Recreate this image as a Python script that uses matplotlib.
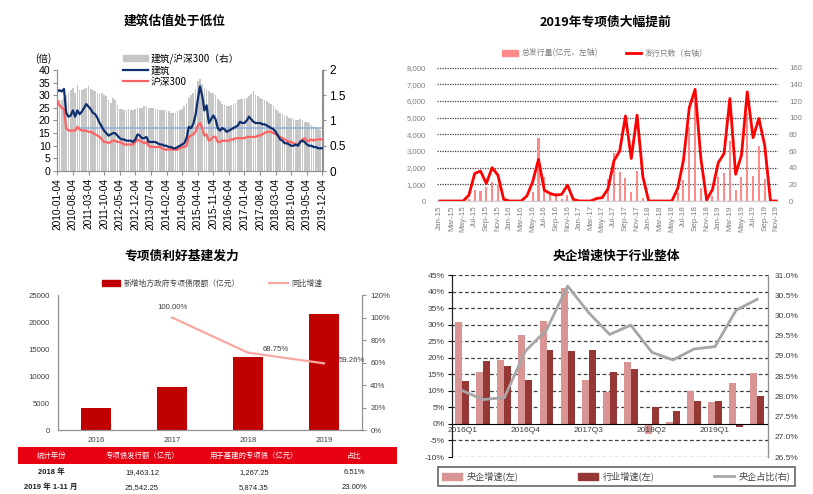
import numpy as np
import matplotlib
matplotlib.use('Agg')
import matplotlib.pyplot as plt
from matplotlib.patches import Patch, Rectangle
from matplotlib.lines import Line2D

plt.rcParams['font.family'] = ['Liberation Sans', 'Noto Sans CJK SC', 'DejaVu Sans']
plt.rcParams['axes.unicode_minus'] = False

# ---- 图1: 建筑估值 (月度, 2010-01 ~ 2019-12)
jianzhu = [31.5, 32, 31.5, 32.5, 23, 21.5, 22, 24, 21.5, 24, 22.5, 23.5,
           25, 26.5, 25.5, 24.5, 23, 22.5, 21, 19, 17.5, 16, 15, 14,
           14.5, 15, 15, 14, 13, 12.5, 12.5, 12, 12, 12, 11.5, 12.5,
           14.5, 14, 13, 13, 13.5, 11.5, 11.5, 11.5, 11.5, 11, 10.5, 10.5,
           10, 10, 9.5, 9.5, 9, 9, 9.5, 10, 10.5, 11, 13, 17.5,
           17, 18.5, 22, 28, 33.5, 30, 24, 26, 19, 20.5, 22, 20.5,
           17, 16, 17, 16.5, 15.5, 16, 16.5, 17, 17.5, 18, 19.5, 19,
           19, 20, 21.5, 20.5, 19.5, 19, 19, 19, 18.5, 18.5, 18, 17.5,
           17, 16.5, 15.5, 14, 12.5, 12, 11, 11, 10.5, 10, 10, 10.5,
           10, 11.5, 12, 11.5, 10.5, 10, 10, 9.5, 9.5, 9, 9, 9]
hs300 = [28, 26, 25, 24.5, 17, 16, 16, 16, 16, 17.5, 16.5, 16,
         16, 16, 15.5, 15.5, 15, 14.5, 14, 13.5, 12.5, 11.5, 11.5, 11,
         11.5, 12, 12, 11.5, 11.5, 11, 10.5, 10.5, 10.5, 10.5, 10.5, 11.5,
         12.5, 12, 11.5, 11, 11.5, 10, 9.5, 9.5, 9.5, 9.5, 9.5, 9,
         8.5, 8.5, 8.5, 8.5, 8.5, 8.5, 8.5, 9, 9.5, 9.5, 10, 13.5,
         14, 14.5, 15.5, 18, 19, 17, 14, 14.5, 12, 12.5, 13.5, 13.5,
         11.5, 11.5, 12, 12, 12, 12, 12.5, 12.5, 13, 13, 13, 13,
         13, 13.5, 13.5, 13.5, 13.5, 13.5, 14, 14, 14.5, 15, 15.5, 15.5,
         15.5, 15, 14.5, 14, 13.5, 13, 12.5, 12, 11.5, 11.5, 11, 10.5,
         10.5, 11.5, 12.5, 13, 12, 12, 12.5, 12, 12.5, 12.5, 12.5, 12.5]
ratio = [1.35, 1.4, 1.4, 1.45, 1.5, 1.55, 1.6, 1.65, 1.55, 1.7, 1.6, 1.6,
         1.62, 1.65, 1.68, 1.62, 1.6, 1.58, 1.55, 1.52, 1.55, 1.5, 1.48, 1.4,
         1.35, 1.45, 1.4, 1.3, 1.22, 1.22, 1.2, 1.2, 1.22, 1.2, 1.2, 1.22,
         1.25, 1.25, 1.25, 1.28, 1.28, 1.25, 1.25, 1.25, 1.22, 1.22, 1.2, 1.2,
         1.2, 1.18, 1.18, 1.15, 1.15, 1.15, 1.18, 1.2, 1.22, 1.28, 1.35, 1.45,
         1.5, 1.55, 1.62, 1.78, 1.82, 1.72, 1.65, 1.62, 1.58, 1.55, 1.55, 1.5,
         1.42, 1.38, 1.32, 1.3, 1.28, 1.28, 1.3, 1.32, 1.35, 1.4, 1.42, 1.42,
         1.42, 1.45, 1.48, 1.52, 1.58, 1.5, 1.48, 1.45, 1.42, 1.4, 1.38, 1.35,
         1.32, 1.28, 1.22, 1.18, 1.15, 1.12, 1.1, 1.08, 1.05, 1.05, 1.02, 1.0,
         1.0, 1.02, 1.0, 0.98, 0.98, 0.95, 0.92, 0.9, 0.88, 0.85, 0.82, 0.78]
ratio_mean = 0.86
date_labels = ['2010-01-04', '2010-08-04', '2011-03-04', '2011-10-04', '2012-05-04',
               '2012-12-04', '2013-07-04', '2014-02-04', '2014-09-04', '2015-04-04',
               '2015-11-04', '2016-06-04', '2017-01-04', '2017-08-04', '2018-03-04',
               '2018-10-04', '2019-05-04', '2019-12-04']

# ---- 图2: 专项债发行 (月度, 2015-01 ~ 2019-11)
issue = [0, 0, 0, 0, 0, 150, 660, 620, 860, 1160, 1000, 0,
         0, 0, 0, 0, 520, 3760, 1440, 360, 480, 150, 360, 0,
         0, 0, 0, 0, 0, 1300, 2900, 1760, 1360, 560, 1820, 180,
         0, 0, 0, 0, 0, 460, 1260, 4460, 6000, 780, 0, 300,
         1420, 1680, 3600, 660, 1460, 5260, 1500, 3320, 1320, 0, 0]
count = [0, 0, 0, 0, 0, 7, 33, 36, 21, 40, 31, 2,
         0, 0, 0, 6, 23, 50, 13, 9, 7, 8, 19, 2,
         0, 0, 0, 3, 4, 15, 48, 60, 102, 51, 103, 29,
         0, 0, 0, 0, 0, 15, 49, 112, 134, 51, 1, 14,
         46, 57, 123, 32, 55, 131, 76, 99, 67, 0, 0]
mon = ['Jan', 'Feb', 'Mar', 'Apr', 'May', 'Jun', 'Jul', 'Aug', 'Sep', 'Oct', 'Nov', 'Dec']
month_labels = [f'{mon[i % 12]}-{15 + i // 12}' for i in range(len(issue))]

# ---- 图3: 专项债限额
years = ['2016', '2017', '2018', '2019']
quota = [4000, 8000, 13500, 21500]
growth = [None, 1.0, 0.6875, 0.5926]
growth_txt = ['', '100.00%', '68.75%', '59.26%']
tbl_head = ['统计年份', '专项债发行额（亿元）', '用于基建的专项债（亿元）', '占比']
tbl_rows = [['2018 年', '19,463.12', '1,267.25', '6.51%'],
            ['2019 年 1-11 月', '25,542.25', '5,874.35', '23.00%']]

# ---- 图4: 央企 vs 行业
quarters = ['2016Q1', '2016Q2', '2016Q3', '2016Q4', '2017Q1', '2017Q2', '2017Q3', '2017Q4',
            '2018Q1', '2018Q2', '2018Q3', '2018Q4', '2019Q1', '2019Q2', '2019Q3']
central = [30.9, 15.6, 19.3, 26.8, 31.1, 41.2, 13.4, 9.7, 18.8, -3.2, 0.5, 10.0, 6.6, 12.4, 15.4]
industry = [13.0, 19.1, 17.4, 13.4, 22.4, 22.0, 22.4, 15.8, 16.7, 5.1, 3.8, 6.9, 6.9, -0.8, 8.3]
share = [28.14, 27.92, 27.97, 29.12, 29.64, 30.73, 30.07, 29.53, 29.76, 29.09, 28.90, 29.17,
         29.23, 30.13, 30.40]

W, H = 813, 494
fig = plt.figure(figsize=(W / 100, H / 100), dpi=100)


def box(x0, y0, x1, y1):
    return [x0 / W, 1 - y1 / H, (x1 - x0) / W, (y1 - y0) / H]


def ftitle(x, y, s):
    fig.text(x / W, 1 - y / H, s, ha='center', va='center', fontsize=9.2, fontweight='bold',
             family=['Noto Sans CJK SC', 'DejaVu Sans'])


# ================= 图1 =================
ftitle(175, 21, '建筑估值处于低位')
ax1 = fig.add_axes(box(57.3, 70, 322.5, 171))
ax1r = ax1.twinx()
x1 = np.arange(len(jianzhu))
ax1r.bar(x1, ratio, width=0.75, color='#c6c6c6', linewidth=0)
ax1r.hlines(ratio_mean, 9, x1[-1], color='#8eaedb', lw=1.1)
ax1.plot(x1, hs300, color='#ff6262', lw=1.6)
ax1.plot(x1, jianzhu, color='#0e2f6e', lw=1.6)
ax1.set_zorder(ax1r.get_zorder() + 1)
ax1.patch.set_visible(False)
ax1.set_xlim(0, x1[-1])
ax1.set_ylim(0, 40)
ax1r.set_ylim(0, 2)
ax1.set_yticks(range(0, 41, 5))
ax1r.set_yticks([0, 0.5, 1, 1.5, 2])
ax1r.set_yticklabels(['0', '0.5', '1', '1.5', '2'])
ax1.set_xticks(np.arange(0, len(jianzhu), 7))
ax1.set_xticklabels(date_labels, rotation=90, fontsize=7.3)
ax1.tick_params(axis='y', labelsize=7.6, length=3, color='#909090', pad=2)
ax1.tick_params(axis='x', length=3, color='#909090', pad=2)
ax1r.tick_params(axis='y', labelsize=8.5, length=3, color='#909090', pad=2)
for a in (ax1, ax1r):
    a.spines['top'].set_visible(False)
    for s in ('left', 'right', 'bottom'):
        a.spines[s].set_color('#909090')
fig.text(35 / W, 1 - 58.5 / H, '(倍)', fontsize=7, va='center',
         family=['Noto Sans CJK SC', 'DejaVu Sans'])
h1 = [Patch(color='#c6c6c6'), Line2D([], [], color='#0e2f6e', lw=1.6),
      Line2D([], [], color='#ff6262', lw=1.6)]
fig.legend(h1, ['建筑/沪深300（右）', '建筑', '沪深300'], loc='upper left',
           bbox_to_anchor=(118 / W, 1 - 48 / H), frameon=False, fontsize=7,
           handlelength=2.6, handleheight=0.6, labelspacing=0.15, handletextpad=0.3,
           borderpad=0, prop={'family': ['Noto Sans CJK SC', 'DejaVu Sans'], 'size': 7})

# ================= 图2 =================
ftitle(605, 22, '2019年专项债大幅提前')
ax2 = fig.add_axes(box(437, 67.7, 778, 201))
ax2r = ax2.twinx()
m2 = np.arange(len(issue))
ax2.bar(m2, issue, width=0.35, color='#ff8a8a', linewidth=0)
ax2r.plot(m2, count, color='#ff0000', lw=2.0)
ax2.set_xlim(-0.5, 58.3)
ax2.set_ylim(0, 8000)
ax2r.set_ylim(0, 160)
ax2.set_yticks(range(0, 8001, 1000))
ax2.set_yticklabels([f'{v:,}' for v in range(0, 8001, 1000)])
ax2r.set_yticks(range(0, 161, 20))
ax2.set_axisbelow(True)
ax2.yaxis.grid(True, linestyle=(0, (1, 1)), color='#404040', lw=0.9)
ax2.set_xticks(m2[::2])
ax2.set_xticklabels(month_labels[::2], rotation=90)
ax2.tick_params(axis='x', labelsize=5.8, length=0, labelcolor='#7f7f7f', pad=3)
ax2.tick_params(axis='y', labelsize=5.6, length=0, labelcolor='#7f7f7f', pad=8)
ax2r.tick_params(axis='y', labelsize=5.6, length=0, labelcolor='#7f7f7f', pad=8)
for a in (ax2, ax2r):
    for s in ('top', 'left', 'right'):
        a.spines[s].set_visible(False)
    a.spines['bottom'].set_color('#d0d0d0')
h2 = [Patch(color='#ff8a8a'), Line2D([], [], color='#ff0000', lw=2.0)]
fig.legend(h2, ['总发行量(亿元，左轴)', '发行只数（右轴）'], loc='center',
           bbox_to_anchor=(605 / W, 1 - 53 / H), ncol=2, frameon=False,
           handlelength=2.0, handleheight=0.7, columnspacing=3.5, handletextpad=0.4,
           labelcolor='#7f7f7f',
           prop={'family': ['Noto Sans CJK SC', 'DejaVu Sans'], 'size': 5.7})

# ================= 图3 =================
ftitle(182, 256, '专项债利好基建发力')
ax3 = fig.add_axes(box(58, 295, 362, 430))
ax3r = ax3.twinx()
x3 = np.arange(len(years))
ax3.bar(x3, quota, width=0.4, color='#c00000')
ax3r.plot(x3[1:], growth[1:], color='#f8a8a2', lw=1.6)
for i in range(1, len(years)):
    off = (0, 10) if i == 1 else (28, 3)
    ax3r.annotate(growth_txt[i], (x3[i], growth[i]), textcoords='offset pixels',
                  xytext=off, ha='center', va='center', fontsize=5.6, color='#404040')
ax3.set_xlim(-0.5, 3.5)
ax3.set_ylim(0, 25000)
ax3r.set_ylim(0, 1.2)
ax3.set_yticks(range(0, 25001, 5000))
ax3r.set_yticks(np.arange(0, 1.21, 0.2))
ax3r.set_yticklabels([f'{int(round(v * 100))}%' for v in np.arange(0, 1.21, 0.2)])
ax3.set_xticks(x3)
ax3.set_xticklabels(years)
ax3.tick_params(axis='x', labelsize=5.6, length=0, pad=5, labelcolor='#404040')
ax3.tick_params(axis='y', labelsize=5.6, length=0, pad=6, labelcolor='#404040')
ax3r.tick_params(axis='y', labelsize=5.6, length=3, pad=3, color='#909090', labelcolor='#404040')
for a in (ax3, ax3r):
    a.spines['top'].set_visible(False)
    for s in ('left', 'right', 'bottom'):
        a.spines[s].set_color('#909090')
h3 = [Patch(color='#c00000'), Line2D([], [], color='#f8a8a2', lw=1.6)]
fig.legend(h3, ['新增地方政府专项债限额（亿元）', '同比增速'], loc='center',
           bbox_to_anchor=(212 / W, 1 - 284 / H), ncol=2, frameon=False,
           handlelength=2.4, handleheight=0.8, columnspacing=3.8, handletextpad=0.4,
           labelcolor='#404040',
           prop={'family': ['Noto Sans CJK SC', 'DejaVu Sans'], 'size': 5.6})

# 表格
axt = fig.add_axes(box(0, 440, 410, 494))
axt.set_xlim(0, 410)
axt.set_ylim(494, 440)
axt.axis('off')
axt.add_patch(Rectangle((18.3, 446.7), 379, 17.6, color='#e60012', lw=0))
col_x = [51, 142, 254, 354]
for cx, s in zip(col_x, tbl_head):
    axt.text(cx, 455.5, s, ha='center', va='center', color='white', fontsize=5.3,
             family=['Noto Sans CJK SC', 'DejaVu Sans'])
for ry, row in zip([472.7, 487.3], tbl_rows):
    for j, (cx, s) in enumerate(zip(col_x, row)):
        axt.text(cx, ry, s, ha='center', va='center', color='#202020', fontsize=5.5,
                 fontweight='bold' if j == 0 else 'normal')

# ================= 图4 =================
ftitle(616, 256, '央企增速快于行业整体')
ax4 = fig.add_axes(box(451.7, 275, 767.7, 457))
ax4r = ax4.twinx()
q = np.arange(len(quarters))
ax4.bar(q - 0.165, central, width=0.33, color='#d99594', linewidth=0)
ax4.bar(q + 0.165, industry, width=0.33, color='#953735', linewidth=0)
ax4r.plot(q, share, color='#a6a6a6', lw=2.0)
ax4.set_xlim(-0.5, 14.5)
ax4.set_ylim(-10, 45)
ax4r.set_ylim(26.5, 31.0)
yt4 = list(range(-10, 46, 5))
ax4.set_yticks(yt4)
ax4.set_yticklabels([f'{v}%' for v in yt4])
for v in yt4:
    if v != 0:
        ax4.axhline(v, color='#404040', lw=0.9, linestyle=(0, (3, 2)), zorder=0)
yr4 = np.arange(26.5, 31.01, 0.5)
ax4r.set_yticks(yr4)
ax4r.set_yticklabels([f'{v:.1f}%' for v in yr4])
ax4.spines['bottom'].set_position(('data', 0))
ax4.spines['bottom'].set_color('#000000')
ax4.spines['bottom'].set_zorder(3)
ax4.set_xticks(q[::3])
ax4.set_xticklabels(quarters[::3])
ax4.tick_params(axis='x', labelsize=6, length=0, pad=2, labelcolor='#404040')
ax4.tick_params(axis='y', labelsize=6.1, length=3, pad=2, labelcolor='#404040')
ax4r.tick_params(axis='y', labelsize=6, length=0, pad=5, labelcolor='#404040')
for a in (ax4, ax4r):
    a.spines['top'].set_visible(False)
ax4r.spines['bottom'].set_visible(False)
ax4.spines['left'].set_color('#202020')
ax4r.spines['left'].set_color('#202020')
ax4r.spines['right'].set_color('#909090')
h4 = [Patch(color='#d99594'), Patch(color='#953735'), Line2D([], [], color='#a6a6a6', lw=2.0)]
leg4 = fig.legend(h4, ['央企增速(左)', '行业增速(左)', '央企占比(右)'], loc='center',
                  bbox_to_anchor=(433 / W, 1 - 486.7 / H, 367 / W, 20 / H), mode='expand',
                  ncol=3, frameon=True, fancybox=False, edgecolor='#404040',
                  handlelength=2.2, handleheight=0.8, handletextpad=0.5, borderpad=0.5,
                  labelcolor='#404040',
                  prop={'family': ['Noto Sans CJK SC', 'DejaVu Sans'], 'size': 6.6})
leg4.get_frame().set_linewidth(1.2)

fig.savefig('out.png', dpi=100)
